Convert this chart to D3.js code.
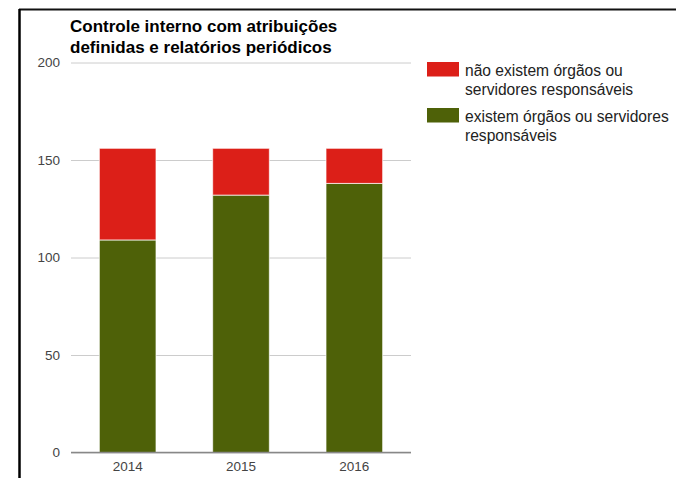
<!DOCTYPE html>
<html>
<head>
<meta charset="utf-8">
<script src="https://cdn.jsdelivr.net/npm/d3@7"></script>
<style>
  html, body { margin: 0; padding: 0; background: #fff; }
  svg { display: block; font-family: "Liberation Sans", Arial, sans-serif; }
</style>
</head>
<body>
<svg id="chart" width="676" height="478"></svg>
<script>
// Survey of municipal internal control: responsible bodies present or absent
const years = ["2014", "2015", "2016"];
const existem = [109, 132, 138];
const naoExistem = [47, 24, 18];
const yTicks = [0, 50, 100, 150, 200];
const titleLines = ["Controle interno com atribuições", "definidas e relatórios periódicos"];
const seriesNames = [
  ["não existem órgãos ou", "servidores responsáveis"],
  ["existem órgãos ou servidores", "responsáveis"]
];
const seriesColors = ["#dc1f18", "#4e6108"];

const svg = d3.select("#chart");
const plot = { left: 71, right: 411, top: 62.5, bottom: 452.5 };

const x = d3.scaleBand().domain(years).range([plot.left, plot.right])
  .paddingInner(0.5).paddingOuter(0.25);
const y = d3.scaleLinear().domain([0, 200]).range([plot.bottom, plot.top]);

// frame lines along the top and left edges
svg.append("line").attr("x1", 19).attr("x2", 676).attr("y1", 9.5).attr("y2", 9.5)
  .attr("stroke", "#111").attr("stroke-width", 2);
svg.append("line").attr("x1", 19.5).attr("x2", 19.5).attr("y1", 9).attr("y2", 478)
  .attr("stroke", "#000").attr("stroke-width", 2.5);

// horizontal gridlines and y labels
const yAxis = d3.axisLeft(y).tickValues(yTicks).tickSize(-(plot.right - plot.left)).tickPadding(11);
const gy = svg.append("g").attr("transform", `translate(${plot.left},0)`).call(yAxis);
gy.select(".domain").remove();
gy.selectAll(".tick line").attr("stroke", "#cccccc");
gy.selectAll(".tick text").attr("fill", "#444").attr("font-size", 13.5);

// stacked bars
const stack = years.map((yr, i) => [
  { key: yr, y0: 0, y1: existem[i], c: seriesColors[1] },
  { key: yr, y0: existem[i], y1: existem[i] + naoExistem[i], c: seriesColors[0] }
]).flat();

svg.append("g").selectAll("rect").data(stack).join("rect")
  .attr("x", d => x(d.key))
  .attr("width", x.bandwidth())
  .attr("y", d => y(d.y1))
  .attr("height", d => y(d.y0) - y(d.y1))
  .attr("fill", d => d.c)
  .attr("stroke", "#ffffff")
  .attr("stroke-opacity", 0.7)
  .attr("stroke-width", 1);

// baseline
svg.append("line").attr("x1", plot.left).attr("x2", plot.right)
  .attr("y1", y(0)).attr("y2", y(0)).attr("stroke", "#888").attr("stroke-width", 1.5);

// x labels
const xAxis = d3.axisBottom(x).tickSize(0).tickPadding(9);
const gx = svg.append("g").attr("transform", `translate(0,${plot.bottom})`).call(xAxis);
gx.select(".domain").remove();
gx.selectAll(".tick text").attr("fill", "#444").attr("font-size", 13.5);

// title
svg.append("text").attr("x", 70).attr("y", 31.5)
  .attr("font-size", 17).attr("font-weight", "bold").attr("fill", "#000")
  .selectAll("tspan").data(titleLines).join("tspan")
  .attr("x", 70).attr("dy", (d, i) => i === 0 ? 0 : 21).text(d => d);

// legend
const legend = svg.append("g");
const legendTop = [62, 108];
seriesNames.forEach((lines, i) => {
  legend.append("rect").attr("x", 427).attr("y", legendTop[i])
    .attr("width", 32).attr("height", 14.5).attr("fill", seriesColors[i]);
  legend.append("text").attr("font-size", 15.6).attr("fill", "#222")
    .selectAll("tspan").data(lines).join("tspan")
    .attr("x", 465).attr("y", (d, j) => legendTop[i] + 14 + j * 19).text(d => d);
});
</script>
</body>
</html>
